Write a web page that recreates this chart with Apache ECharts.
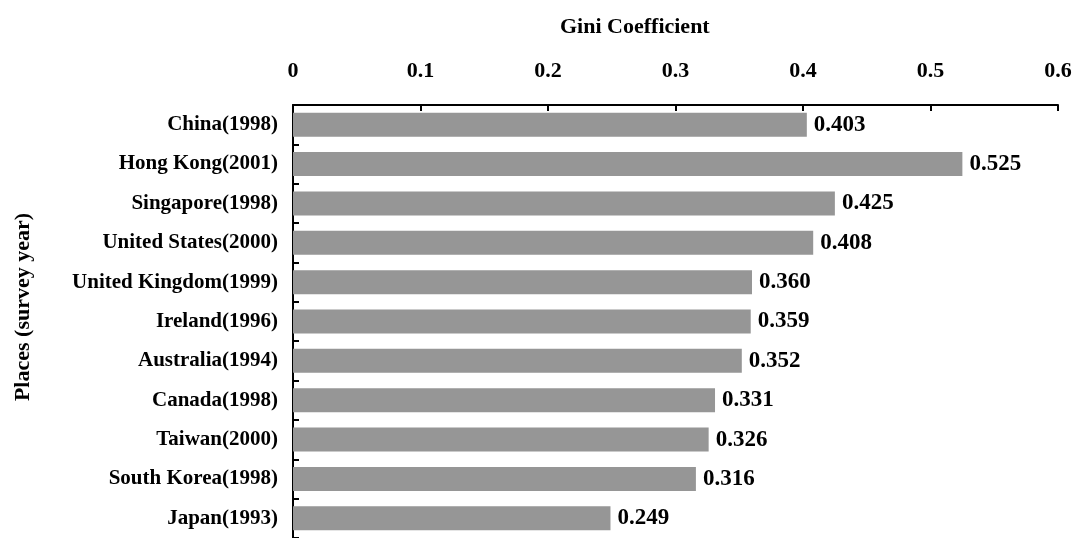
<!DOCTYPE html>
<html><head><meta charset="utf-8">
<script src="https://cdn.jsdelivr.net/npm/echarts@6/dist/echarts.min.js"></script>
<style>html,body{margin:0;padding:0;background:#fff}#c{width:1076px;height:538px}</style>
</head><body><div id="c"></div>
<script>
var categories = ["China(1998)","Hong Kong(2001)","Singapore(1998)","United States(2000)","United Kingdom(1999)","Ireland(1996)","Australia(1994)","Canada(1998)","Taiwan(2000)","South Korea(1998)","Japan(1993)"];
var giniValues = [0.403,0.525,0.425,0.408,0.360,0.359,0.352,0.331,0.326,0.316,0.249];
var xTicks = [0,0.1,0.2,0.3,0.4,0.5,0.6];
var xTitle = "Gini Coefficient";
var yTitle = "Places (survey year)";
var font = "'Liberation Serif','Times New Roman',serif";
var chart = echarts.init(document.getElementById('c'));
chart.setOption({
  animation:false,
  grid:{left:293,right:18,top:105,bottom:-4,containLabel:false},
  graphic:[
    {type:'text',left:560,top:16,style:{text:xTitle,font:"bold 22px "+font,fill:'#000'}},
    {type:'text',x:23,y:307,rotation:Math.PI/2,style:{text:yTitle,font:"bold 22px "+font,fill:'#000',align:'center',verticalAlign:'middle'}}
  ],
  xAxis:{type:'value',position:'top',min:0,max:0.6,interval:0.1,
    axisLine:{show:true,lineStyle:{color:'#000',width:2}},
    axisTick:{show:true,inside:true,length:6,lineStyle:{color:'#000',width:2}},
    axisLabel:{margin:23,fontFamily:font,fontWeight:'bold',fontSize:22,color:'#000',
      formatter:function(v){return String(Math.round(v*10)/10);}},
    splitLine:{show:false}},
  yAxis:{type:'category',data:categories,inverse:true,
    axisLine:{show:true,lineStyle:{color:'#000',width:2}},
    axisTick:{show:true,inside:true,length:6,alignWithLabel:false,lineStyle:{color:'#000',width:2}},
    axisLabel:{margin:15,fontFamily:font,fontWeight:'bold',fontSize:21,color:'#000'}},
  series:[{type:'bar',data:giniValues,barWidth:24,
    itemStyle:{color:'#969696'},
    label:{show:true,position:'right',distance:7,fontFamily:font,fontWeight:'bold',fontSize:23,color:'#000',
      formatter:function(p){return p.value.toFixed(3);}}}]
});
</script></body></html>
